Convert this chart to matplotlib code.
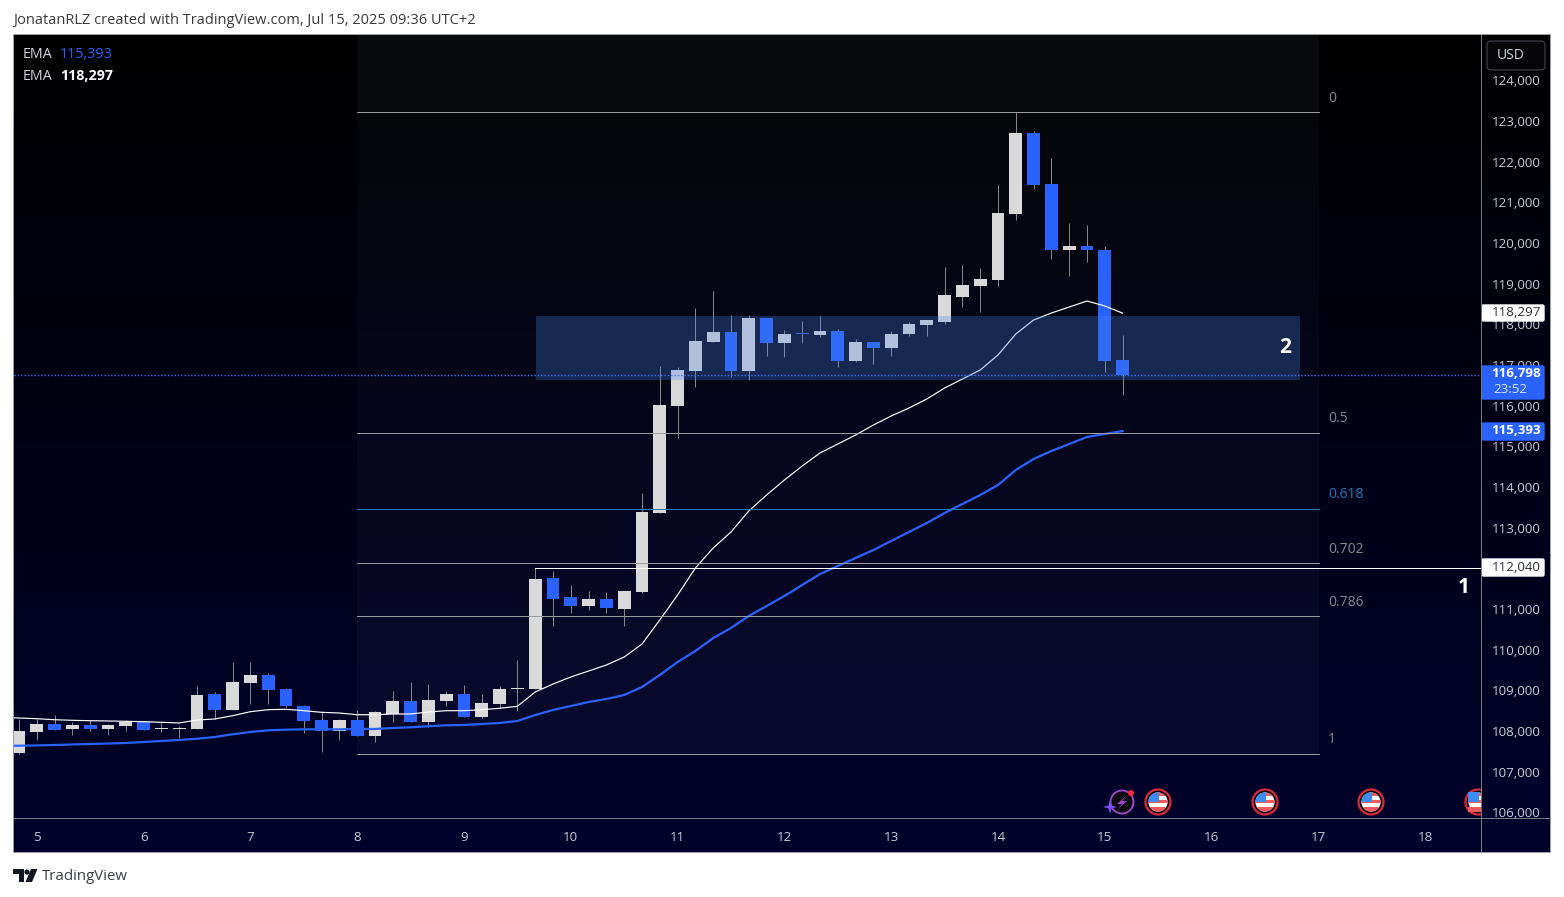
import numpy as np
import matplotlib
matplotlib.use("Agg")
import matplotlib.pyplot as plt
from matplotlib.patches import Rectangle, Circle, Polygon, FancyBboxPatch
from matplotlib.colors import LinearSegmentedColormap

# ---------------- data (BTCUSD 4h candles) ----------------
opens = [107459,107976,108172,108049,108148,108049,108123,108222,108060,108060,
         108049,108910,108517,109181,109377,109033,108615,108271,108000,108271,
         107877,108418,108738,108222,108738,108910,108344,108664,109040,109033,
         111762,111295,111073,111245,110999,111418,113360,115992,116852,117565,
         117811,116852,118156,117541,117790,117737,117836,117098,117565,117418,
         117762,117983,118057,118672,118942,119090,120713,122705,121450,119827,
         119926,119827,117122]
closes = [108000,108172,108025,108148,108049,108148,108222,108025,108070,108070,
          108885,108517,109205,109377,109008,108615,108246,108000,108271,107877,
          108467,108738,108222,108763,108910,108344,108689,109033,109060,111738,
          111245,111073,111245,111024,111442,113385,116016,116877,117590,117811,
          116852,118156,117541,117762,117770,117836,117098,117565,117418,117762,
          118008,118106,118721,118967,119114,120737,122705,121426,119827,119926,
          119827,117098,116765]
highs = [108287,108287,108394,108230,108271,108172,108271,108246,108222,108123,
         109107,108959,109697,109697,109426,109058,108640,108492,108295,108517,
         108492,108984,109205,109156,108984,109131,108910,109107,109746,112000,
         111934,111590,111442,111418,111442,113852,116975,116951,118401,118820,
         118229,118229,118156,117860,118082,118205,117885,117639,117565,117836,
         118057,118106,119409,119458,119385,121426,123213,122754,122090,120491,
         120442,119926,117737]
lows = [107435,107779,108025,107902,108000,107902,108000,108025,107976,107828,
        108049,108295,108517,108664,108664,108590,107951,107484,107779,107877,
        107730,108222,108222,108099,108615,108344,108320,108558,108492,109033,
        110581,110901,110975,110901,110581,111393,113360,115205,116459,117565,
        116705,116631,117221,117197,117541,117688,116951,117074,117024,117221,
        117713,117713,118008,118426,118303,118942,120565,121327,119606,119188,
        119532,116827,116262]
# the averages start one bar before the first visible candle
ema_fast = [108330,108319,108302,108277,108263,108253,108246,108238,108229,108214,108197,
            108270,108295,108376,108475,108524,108533,108499,108459,108442,108400,
            108400,108418,108418,108467,108499,108499,108524,108558,108607,108959,
            109155,109328,109475,109623,109819,110139,110729,111344,112008,112500,
            112893,113410,113803,114172,114516,114836,115057,115278,115524,115746,
            115942,116164,116434,116655,116877,117246,117762,118106,118278,118426,
            118573,118450,118275]
ema_slow = [107632,107638,107645,107655,107668,107680,107692,107705,107729,107754,107779,
            107810,107852,107919,107975,108017,108032,108041,108041,108041,108049,
            108049,108074,108091,108116,108140,108148,108172,108197,108246,108393,
            108516,108614,108713,108787,108885,109082,109377,109696,109967,110287,
            110532,110828,111073,111319,111590,111860,112057,112254,112450,112672,
            112893,113114,113360,113582,113803,114049,114418,114688,114885,115057,
            115229,115303,115375]
fib_labels = ["0", "0.5", "0.618", "0.702", "0.786", "1"]
fib_prices = [123221, 115328, 113455, 112120, 110826, 107434]
fib_alpha = [0.028, 0.03, 0.033, 0.036, 0.04]
day_labels = ["5","6","7","8","9","10","11","12","13","14","15","16","17","18"]
price_ticks = list(range(106000, 125000, 1000))
zone_low, zone_high = 116631, 118205
support_price = 112010
last_price = 116765

# ---------------- layout ----------------
W, H = 1564, 897
X0, X1, XR = 14, 1481, 1550
Y0, Y1, YB = 35, 818, 852
def x2i(x): return (x - 19.0) / 17.8
def y2p(y): return 125975 - 24.59 * y

UI = "Open Sans"
fig = plt.figure(figsize=(W/100, H/100), dpi=100, facecolor="white")
def axpx(x0, y0, x1, y1, **k):
    return fig.add_axes([x0/W, 1-y1/H, (x1-x0)/W, (y1-y0)/H], **k)

# background gradient
bg = axpx(X0, Y0, XR, YB, zorder=0)
cm = LinearSegmentedColormap.from_list("g", ["#000000", "#00002c"])
bg.imshow(np.linspace(0, 1, 256).reshape(-1, 1), aspect="auto", cmap=cm, extent=(0, 1, 0, 1))
bg.axis("off")

# main chart
ax = axpx(X0, Y0, X1, Y1, zorder=1)
ax.patch.set_alpha(0)
ax.set_xlim(x2i(X0), x2i(X1))
ax.set_ylim(y2p(Y1), y2p(Y0))
for s in ax.spines.values():
    s.set_visible(False)
xs = np.arange(len(opens))
ema_x = np.arange(len(ema_fast)) - 1
ups = np.array(closes) >= np.array(opens)
UP, DOWN = "#d9d9d9", "#2962ff"
cols = [UP if u else DOWN for u in ups]

# fib zones
TINT = "#d0dcff"
f0, f1 = x2i(357), x2i(1319)
ax.fill_between([f0, f1], fib_prices[0], y2p(Y0), color=TINT, alpha=0.046, lw=0, zorder=1)
for a, top, bot in zip(fib_alpha, fib_prices[:-1], fib_prices[1:]):
    ax.fill_between([f0, f1], bot, top, color=TINT, alpha=a, lw=0, zorder=1)

# EMAs and candles
wicks = ax.vlines(xs, lows, highs, color="#868686", lw=0.72, zorder=2)
wicks.set_snap(True)
ax.bar(xs, np.array(closes)-np.array(opens), bottom=opens, width=0.73, color=cols, lw=0, zorder=3)
ax.plot(ema_x, ema_fast, color="white", lw=0.85, zorder=4)
ax.plot(ema_x, ema_slow, color="#2962ff", lw=1.6, zorder=4)

# fib lines
for lab, p in zip(fib_labels, fib_prices):
    c = "#2a7ab8" if lab == "0.618" else "#9c9ca0"
    ax.plot([f0, f1], [p, p], color=c, lw=0.72, zorder=5)
    tc = "#2a7ab8" if lab == "0.618" else "#868a90"
    ax.text(x2i(1328), p + {"0": 320, "0.5": 350, "0.618": 365, "0.702": 355, "0.786": 340, "1": 365}[lab],
            lab, color=tc, fontsize=10, family=UI, ha="left", va="center", zorder=5)

# support ray with stem
ax.plot([29, x2i(X1)], [support_price, support_price], color="white", lw=0.72, zorder=5)

# zone
ax.add_patch(Rectangle((x2i(536), zone_low), x2i(1300)-x2i(536), zone_high-zone_low,
                       facecolor=(70/255, 134/255, 235/255, 0.28), lw=0, zorder=6))
ax.axhline(last_price, color="#3a74ff", lw=1.0, ls=(0, (1, 1.4)), zorder=7)
ax.text(x2i(1285), y2p(347.5), "2", color="white", fontsize=15, fontweight="bold", family=UI, ha="center", va="center", zorder=8)
ax.text(x2i(1464), y2p(587.5), "1", color="white", fontsize=15, fontweight="bold", family=UI, ha="center", va="center", zorder=8)

# axes ticks
ax.yaxis.tick_right()
ax.set_yticks(price_ticks)
ax.set_yticklabels([f"{t:,}" for t in price_ticks], fontsize=9.6, family=UI, color="#c9ccd4")
ax.tick_params(axis="y", length=0, pad=8)
ax.set_xticks([1 + 6*i for i in range(len(day_labels))])
ax.set_xticklabels(day_labels, fontsize=9.6, family=UI, color="#c9ccd4")
ax.tick_params(axis="x", length=0, pad=9)

# ---------------- overlay chrome, in pixel coordinates ----------------
ov = axpx(0, 0, W, H, zorder=3)
ov.set_xlim(0, W); ov.set_ylim(H, 0); ov.axis("off"); ov.patch.set_alpha(0)
BORDER = "#9a9da4"
ov.add_patch(Rectangle((12.8, 34), 1537, 818, fill=False, ec=BORDER, lw=0.72))
ov.plot([X1, X1], [Y0, YB], color="#787b84", lw=0.72)
ov.plot([X0, XR], [Y1, Y1], color="#787b84", lw=0.72)

def txt(x, y, s, c="#d1d4dc", fs=9.6, **k):
    k.setdefault("va", "center"); k.setdefault("ha", "left")
    return ov.text(x, y, s, color=c, fontsize=fs, family=UI, **k)

txt(13, 20, "JonatanRLZ created with TradingView.com, Jul 15, 2025 09:36 UTC+2", c="#3a3a3a", fs=10.57)
txt(23, 55, "EMA", c="#d1d4dc", fs=10.3)
txt(60, 55, "115,393", c="#2962ff", fs=10.3)
txt(23, 76, "EMA", c="#d1d4dc", fs=10.3)
txt(60, 76, "118,297", c="#ffffff", fs=10.3, fontweight="bold")

# price tags
def tag(y0, y1, fc):
    ov.add_patch(FancyBboxPatch((X1+1, y0+1), 63-1, y1-y0-2, boxstyle="round,pad=0,rounding_size=1.5", fc=fc, ec=fc, lw=1))
tag(304, 322, "white"); txt(1541, 313, "118,297", c="#2a2e39", ha="right")
tag(365, 400, "#2962ff"); txt(1541, 373.5, "116,798", c="white", ha="right", fontweight="bold"); txt(1493, 389.5, "23:52", c="#dbe4ff", fs=9.6)
tag(422, 441, "#2962ff"); txt(1541, 431, "115,393", c="white", ha="right", fontweight="bold")
tag(558, 577, "white"); txt(1541, 567.5, "112,040", c="#2a2e39", ha="right")

# USD button
ov.add_patch(FancyBboxPatch((1487, 41), 58, 29, boxstyle="round,pad=0,rounding_size=4", fc="#050507", ec="#3c3f47", lw=0.9))
txt(1510.5, 55.5, "USD", c="#d1d4dc", fs=10, ha="center")

# event icons
clip = Rectangle((X0, Y0), X1-X0, Y1-Y0, transform=ov.transData)
def flag(cx, cy=802):
    ring = Circle((cx, cy), 12.5, fc="#0a0a14", ec="#d92a39", lw=1.6)
    inner = Circle((cx, cy), 9.6, fc="white", ec="none", transform=ov.transData)
    ov.add_patch(ring); ov.add_patch(inner)
    ring.set_clip_path(clip); inner.set_clip_path(clip)
    shapes = [Rectangle((cx-10, cy-9), 20, 3, fc="#f05a5a", ec="none"),
              Rectangle((cx-10, cy-2), 20, 3.4, fc="#f05a5a", ec="none"),
              Rectangle((cx-10, cy+5), 20, 5, fc="#f05a5a", ec="none"),
              Rectangle((cx-10, cy-10), 11, 10, fc="#3d8df0", ec="none")]
    for s in shapes:
        ov.add_patch(s)
        s.set_clip_path(clip if cx > 1460 else inner)
flag(1158); flag(1265); flag(1371); flag(1478)
ov.add_patch(Circle((1122, 802), 11.5, fc="#0a0a10", ec="#9b45c4", lw=1.4))
ov.add_patch(Polygon([(1127,795),(1117,804),(1122,804),(1117,810),(1127,801),(1122,801)], fc="#9b45c4", ec="none"))
ov.add_patch(Polygon([(1110,800),(1111.5,805.5),(1117,807),(1111.5,808.5),(1110,814),(1108.5,808.5),(1103,807),(1108.5,805.5)], fc="#7c4dff", ec="none"))
ov.add_patch(Circle((1131, 793), 3, fc="#f0283c", ec="none"))

# TradingView logo and name
ov.add_patch(Polygon([(13,869),(24,869),(24,882),(18.5,882),(18.5,874.5),(13,874.5)], fc="#131722", ec="none"))
ov.add_patch(Circle((27, 872), 2.6, fc="#131722", ec="none"))
ov.add_patch(Polygon([(31,869),(37.5,869),(32,882),(25.5,882)], fc="#131722", ec="none"))
txt(42, 876.5, "TradingView", c="#3a3d45", fs=10.8)

fig.savefig("out.png", dpi=100, facecolor="white")
